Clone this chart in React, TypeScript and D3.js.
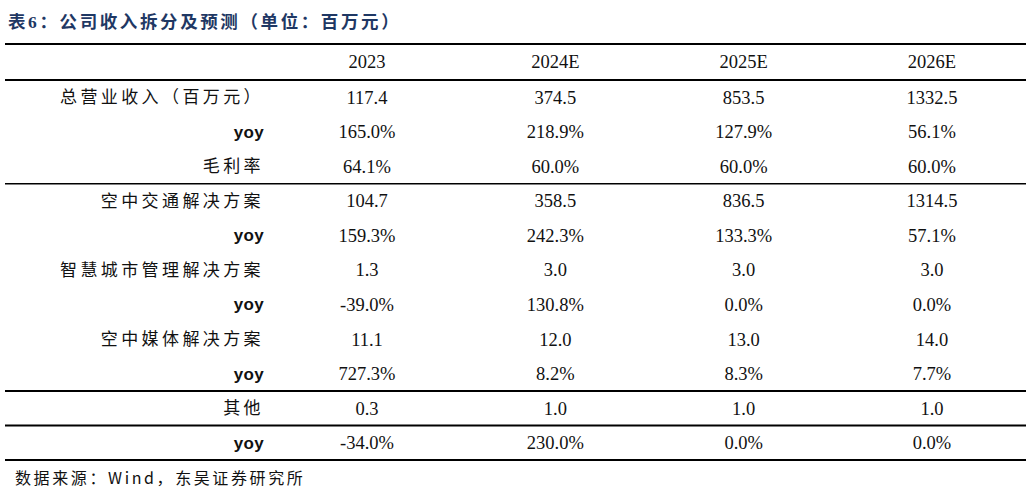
import React from 'react';
import * as d3 from 'd3';

const title = '表6：公司收入拆分及预测（单位：百万元）';
const source = '数据来源：Wind，东吴证券研究所';
const columns = ['2023', '2024E', '2025E', '2026E'];
const rowLabels = [
  '总营业收入（百万元）', 'yoy', '毛利率',
  '空中交通解决方案', 'yoy', '智慧城市管理解决方案', 'yoy', '空中媒体解决方案', 'yoy',
  '其他', 'yoy',
];
const values2023 = ['117.4', '165.0%', '64.1%', '104.7', '159.3%', '1.3', '-39.0%', '11.1', '727.3%', '0.3', '-34.0%'];
const values2024 = ['374.5', '218.9%', '60.0%', '358.5', '242.3%', '3.0', '130.8%', '12.0', '8.2%', '1.0', '230.0%'];
const values2025 = ['853.5', '127.9%', '60.0%', '836.5', '133.3%', '3.0', '0.0%', '13.0', '8.3%', '1.0', '0.0%'];
const values2026 = ['1332.5', '56.1%', '60.0%', '1314.5', '57.1%', '3.0', '0.0%', '14.0', '7.7%', '1.0', '0.0%'];
// index of the row after which a rule is drawn, and its width
const separators = [
  { after: 2, w: 1.5 },
  { after: 8, w: 2 },
  { after: 9, w: 2 },
];

const W = 1031;
const H = 500;

export default function App() {
  const series = [values2023, values2024, values2025, values2026];
  const x = d3.scalePoint<string>().domain(columns).range([367, 932]);
  const y = d3.scaleBand<number>().domain(d3.range(rowLabels.length)).range([80, 460]).padding(0);
  const left = 5;
  const right = 1026;
  const labelX = 264;
  const serif = '"Liberation Serif", "Times New Roman", serif';
  const cjk = '"Noto Sans CJK SC", "Noto Sans", sans-serif';
  const ink = '#111';

  return (
    <svg width={W} height={H} style={{ position: 'absolute', left: 0, top: 0, background: '#fff' }}>
      <text x={8} y={22} dy="0.35em" fontFamily={`${serif}, ${cjk}`} fontWeight="bold" fontSize={17.5}
        letterSpacing={2.6} fill="#1f3864">
        {title}
      </text>

      {/* header */}
      <line x1={left} x2={right} y1={44} y2={44} stroke="#000" strokeWidth={2.2} />
      {columns.map(c => (
        <text key={c} x={x(c)} y={62} dy="0.35em" textAnchor="middle" fontFamily={serif} fontSize={18.5} fill={ink}>
          {c}
        </text>
      ))}
      <line x1={left} x2={right} y1={80} y2={80} stroke="#000" strokeWidth={2.2} />

      {/* body rows */}
      {rowLabels.map((lab, i) => {
        const cy = (y(i) ?? 0) + y.bandwidth() / 2;
        const isYoy = lab === 'yoy';
        return (
          <g key={i}>
            <text
              x={labelX}
              y={cy}
              dy="0.35em"
              textAnchor="end"
              fontFamily={isYoy ? '"Liberation Sans", Arial, sans-serif' : cjk}
              fontWeight={isYoy ? 'bold' : 'normal'}
              fontSize={17}
              letterSpacing={isYoy ? 0.3 : 3.4}
              fill={ink}
            >
              {lab}
            </text>
            {columns.map((c, j) => (
              <text key={c} x={x(c)} y={cy} dy="0.35em" textAnchor="middle" fontFamily={serif} fontSize={18.5} fill={ink}>
                {series[j][i]}
              </text>
            ))}
          </g>
        );
      })}

      {separators.map(s => {
        const yy = (y(s.after) ?? 0) + y.bandwidth();
        return <line key={s.after} x1={left} x2={right} y1={yy} y2={yy} stroke="#000" strokeWidth={s.w} />;
      })}
      <line x1={left} x2={right} y1={460} y2={460} stroke="#000" strokeWidth={2.2} />

      <text x={15} y={478} dy="0.35em" fontFamily={`${cjk}`} fontSize={16} letterSpacing={2.6} fill={ink}>
        {source}
      </text>
    </svg>
  );
}
